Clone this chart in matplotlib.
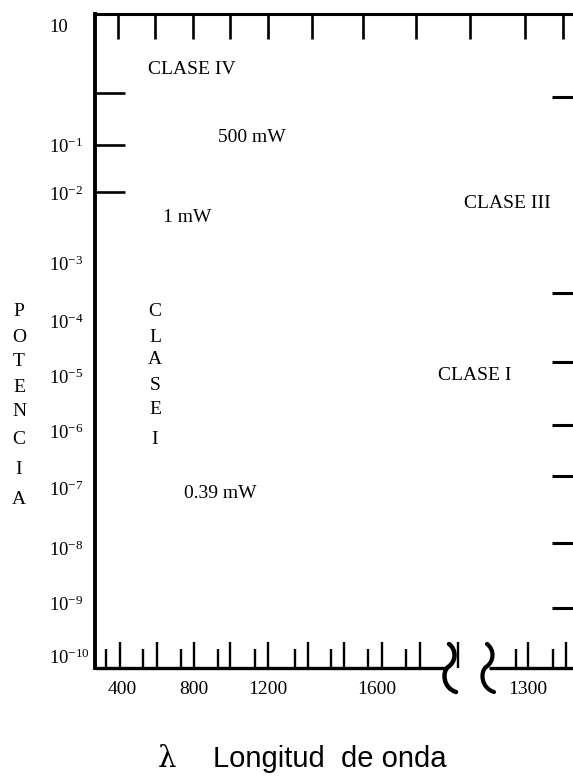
import matplotlib
matplotlib.use("Agg")
import matplotlib.pyplot as plt
from matplotlib.path import Path
from matplotlib.patches import PathPatch

plt.rcParams['font.family'] = ['Liberation Serif', 'DejaVu Serif']
plt.rcParams['mathtext.fontset'] = 'custom'
plt.rcParams['mathtext.rm'] = 'Liberation Serif'
plt.rcParams['mathtext.it'] = 'Liberation Serif:italic'

# power scale (exponent of ten), None = plain "10"
y_exponents = [None, -1, -2, -3, -4, -5, -6, -7, -8, -9, -10]
# wavelength labels under the axis (right one is past the axis break)
x_labels = ['400', '800', '1200', '1600', '1300']

# region labels
region_texts = ['CLASE IV', '500 mW', '1 mW', 'CLASE III', 'CLASE I', '0.39 mW']
vertical_text = 'CLASE I'
ylabel_text = 'POTENCIA'

# --- layout: the sketch is not to scale, so positions are in drawing units ---
W, H = 573, 776
x0, x1 = 95, 573
y_top, y_bot = 14, 668

y_label_pos = [27, 147, 195, 265, 323, 378, 433, 490, 550, 605, 658]
x_label_pos = [122, 194, 268, 377, 528]
region_xy = [(192, 70), (252, 137), (187, 218), (507, 203), (475, 375), (220, 493)]
vert_x, vert_y = 155, [312, 337, 360, 385, 409, 440]
pot_x, pot_y = 19, [312, 337, 361, 388, 412, 440, 470, 500]

top_ticks = [118, 155, 193, 230, 268, 312, 363, 416, 470, 525, 563]
left_ticks = [93, 145, 192]
right_ticks = [97, 293, 362, 425, 476, 543, 608]
bottom_tall = [120, 157, 194, 230, 268, 308, 344, 382, 420, 458, 528, 566]
bottom_short = [106, 143, 181, 218, 255, 295, 331, 368, 406, 516, 553]
break_left, break_right = 447, 489

fig = plt.figure(figsize=(W / 100, H / 100), dpi=100)
ax = fig.add_axes([x0 / W, 1 - y_bot / H, (x1 - x0) / W, (y_bot - y_top) / H])
ax.set_xlim(x0, x1)
ax.set_ylim(y_bot, y_top)
ax.set_xticks([])
ax.set_yticks([])
ax.spines['right'].set_visible(False)
ax.spines['bottom'].set_visible(False)
ax.spines['left'].set_linewidth(2.8)
ax.spines['top'].set_linewidth(2.2)

k = dict(color='black', clip_on=False, solid_capstyle='butt')

# bottom axis, broken
ax.plot([x0, break_left], [y_bot, y_bot], lw=2.4, **k)
ax.plot([break_right, x1], [y_bot, y_bot], lw=2.4, **k)

# ticks
for x in top_ticks:
    ax.plot([x, x], [y_top, y_top + 25], lw=1.9, **k)
for y in left_ticks:
    ax.plot([x0, x0 + 30], [y, y], lw=1.9, **k)
for y in right_ticks:
    ax.plot([552, x1], [y, y], lw=2.2, **k)
for x in bottom_tall:
    ax.plot([x, x], [y_bot, y_bot - 26], lw=1.7, **k)
for x in bottom_short:
    ax.plot([x, x], [y_bot, y_bot - 19], lw=1.7, **k)

# break marks
def squiggle(xs, lw):
    verts = [(xs + 2, 644), (xs + 10, 650), (xs + 9, 662), (xs + 1, 667),
             (xs - 5, 672), (xs - 4, 688), (xs + 9, 692)]
    codes = [Path.MOVETO] + [Path.CURVE4] * 6
    ax.add_patch(PathPatch(Path(verts, codes), fill=False, lw=lw,
                           edgecolor='black', clip_on=False, capstyle='round'))

squiggle(break_left, 3.2)
squiggle(break_right - 4, 3.0)

# y labels
for e, y in zip(y_exponents, y_label_pos):
    s = '10' if e is None else r'$10^{%d}$' % e
    ax.text(49, y, s, fontsize=13.5, ha='left', va='center', clip_on=False)

# x labels
for s, x in zip(x_labels, x_label_pos):
    ax.text(x, 689, s, fontsize=14, ha='center', va='center', clip_on=False)

for s, (x, y) in zip(region_texts, region_xy):
    ax.text(x, y, s, fontsize=14, ha='center', va='center')

for ch, y in zip(vertical_text.replace(' ', ''), vert_y):
    ax.text(vert_x, y, ch, fontsize=14, ha='center', va='center')

for ch, y in zip(ylabel_text, pot_y):
    ax.text(pot_x, y, ch, fontsize=14, ha='center', va='center', clip_on=False)

# axis title (kept just inside the bottom edge)
ax.text(167, 767, 'λ', fontsize=21, ha='center', va='baseline',
        family=['DejaVu Serif'], clip_on=False)
ax.text(213, 767, 'Longitud  de onda', fontsize=21, ha='left', va='baseline',
        family=['Liberation Sans', 'DejaVu Sans'], clip_on=False)

fig.savefig('out.png', dpi=100)
